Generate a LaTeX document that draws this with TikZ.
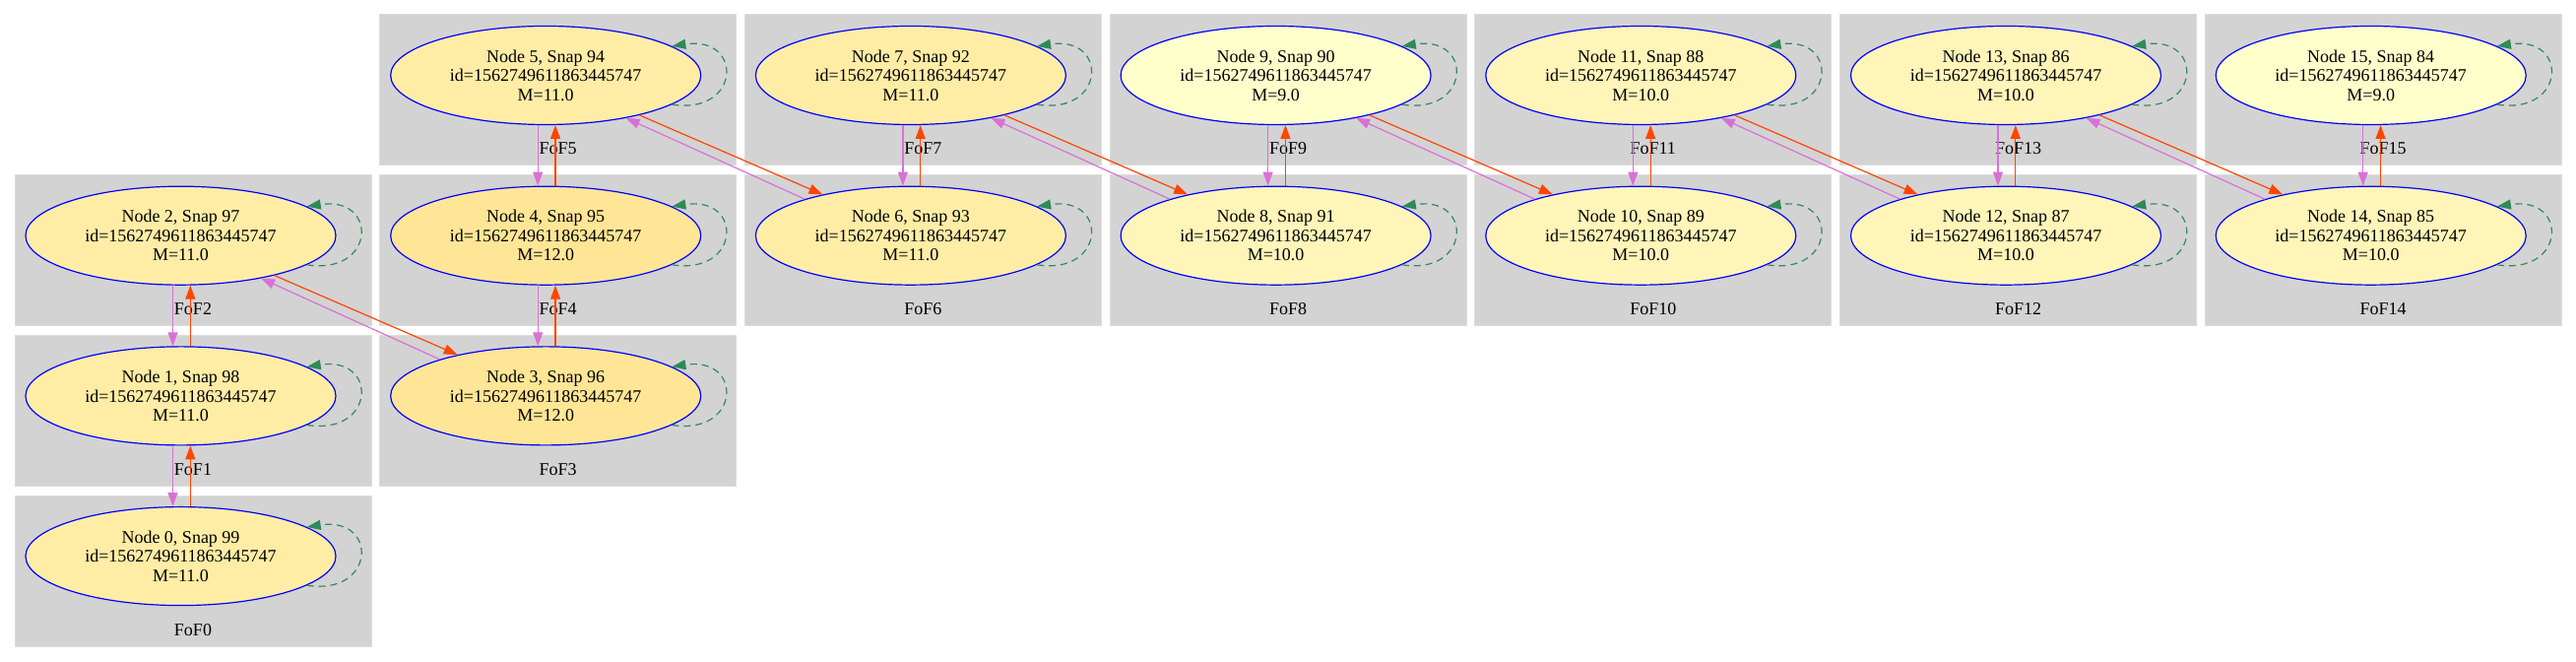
\documentclass[tikz,border=0pt]{standalone}
\usepackage{fontspec}
\setmainfont{Liberation Serif}
\usetikzlibrary{arrows.meta}
\usetikzlibrary{shapes.geometric}
\tikzset{>={Triangle[length=7pt,width=5pt]}}
\definecolor{fofgrey}{RGB}{211,211,211}
\definecolor{massnine}{RGB}{255,255,204}
\definecolor{massten}{RGB}{255,245,185}
\definecolor{masseleven}{RGB}{255,237,166}
\definecolor{masstwelve}{RGB}{255,230,150}
\definecolor{loopgreen}{RGB}{46,139,87}
\definecolor{progorange}{RGB}{255,69,0}
\definecolor{descviolet}{RGB}{218,112,214}
\tikzset{
  halo/.style={ellipse, draw=blue, line width=0.6pt, minimum width=157.5pt,
    minimum height=50pt, inner sep=0pt, align=center,
    font=\fontsize{9}{9.75}\selectfont},
  foflabel/.style={anchor=base, inner sep=0pt, font=\fontsize{9}{9.75}\selectfont},
  fofbox/.style={fill=fofgrey, draw=fofgrey!80!white, line width=0.5pt},
  tofof/.style={->, draw=progorange, line width=0.6pt},
  fromfof/.style={->, draw=descviolet, line width=0.6pt},
  selfloop/.style={-{Triangle[length=7pt,width=5pt,sep=0pt]}, draw=loopgreen,
    line width=0.6pt, dash pattern=on 3.5pt off 2.5pt}
}

\begin{document}
\begin{tikzpicture}[x=0.5pt, y=0.5pt]
  \useasboundingbox (0,0) rectangle (2616,672);
  \foreach \i/\c/\r/\m/\col in {0/0/3/11.0/masseleven, 1/0/2/11.0/masseleven,
    2/0/1/11.0/masseleven, 3/1/2/12.0/masstwelve, 4/1/1/12.0/masstwelve,
    5/1/0/11.0/masseleven, 6/2/1/11.0/masseleven, 7/2/0/11.0/masseleven,
    8/3/1/10.0/massten, 9/3/0/9.0/massnine, 10/4/1/10.0/massten,
    11/4/0/10.0/massten, 12/5/1/10.0/massten, 13/5/0/10.0/massten,
    14/6/1/10.0/massten, 15/6/0/9.0/massnine}{
    \pgfmathsetmacro\L{15+370.7*\c}
    \pgfmathsetmacro\T{657-162.7*\r}
    \pgfmathtruncatemacro\snap{99-\i}
    \filldraw[fofbox] (\L,\T) rectangle ++(362,-153);
    \node[foflabel] (fof\i) at (\L+181,\T-142) {FoF\i};
    \node[halo, fill=\col] (n\i) at (\L+168.5,\T-61.5)
      {Node \i, Snap \snap\\id=1562749611863445747\\M=\m};
  }
  % same column
  \foreach \a/\b in {0/1,1/2,3/4,4/5,6/7,8/9,10/11,12/13,14/15}{
    \draw[tofof] (n\a.79.8) -- (n\b.-79.8);
    \draw[fromfof] (n\b.-99.6) -- (n\a.99.6);
  }
  % next column
  \foreach \a/\b in {2/3,5/6,7/8,9/10,11/12,13/14}{
    \draw[tofof] (n\a.-23) -- (n\b.155);
    \draw[fromfof] (n\b.161) -- (n\a.-28);
  }
  \foreach \i in {0,...,15}{
    \draw[selfloop] (n\i.-13) .. controls +(70,-11) and +(73,11) .. (n\i.13);
  }
\end{tikzpicture}
\end{document}
